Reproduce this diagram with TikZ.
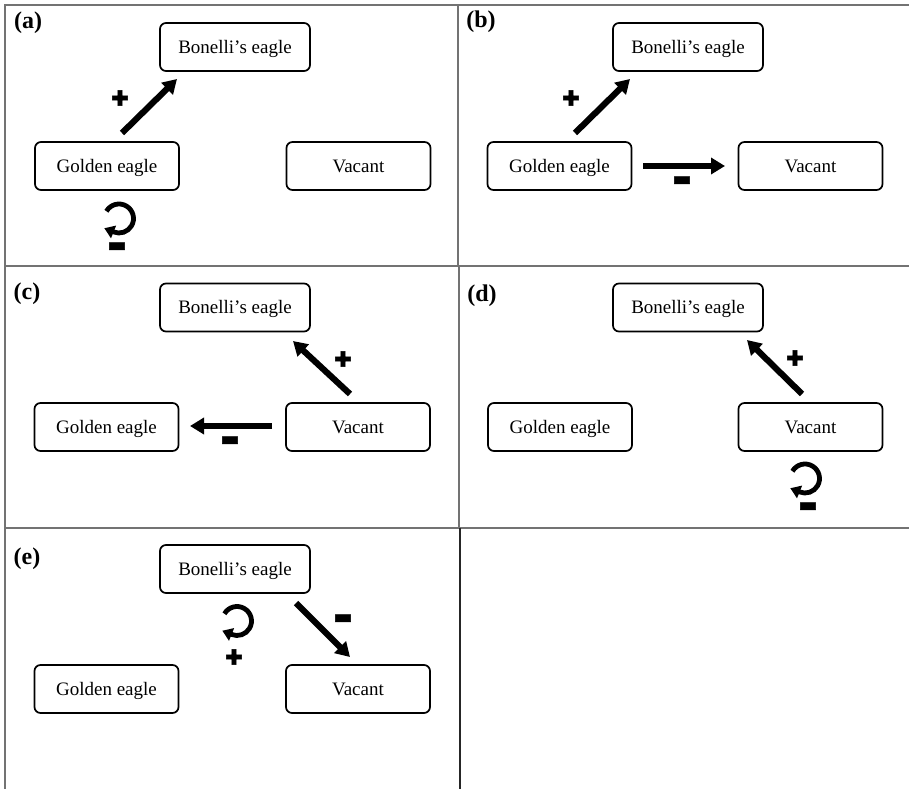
\documentclass[tikz,border=0pt]{standalone}
\usepackage{fontspec}
\setmainfont{Liberation Serif}
\newfontfamily\symfont[AutoFakeBold=2.6]{DejaVu Sans}
\usetikzlibrary{arrows.meta,calc}
\begin{document}
\begin{tikzpicture}[x=1pt,y=1pt,
  grid/.style={draw=black!55, line width=1.3pt},
  box/.style={draw, line width=1.7pt, rounded corners=6pt, minimum width=144pt, minimum height=48pt, inner sep=0pt, text height=12.6pt, text depth=0pt, font=\fontsize{19}{22}\selectfont},
  bbox/.style={box, minimum width=150pt},
  panel/.style={font=\bfseries\fontsize{24}{26}\selectfont, inner sep=0pt},
  plussign/.style={font=\symfont\bfseries\fontsize{21}{21}\selectfont, inner sep=0pt},
  minussign/.style={font=\symfont\bfseries\fontsize{20}{20}\selectfont, inner sep=0pt},
  flow/.style={line width=6.2pt, -{Triangle[length=14pt,width=16pt]}},
  loopst/.style={line width=4.8pt, -{Triangle[length=10pt,width=13pt]}}
]
\useasboundingbox (0,0) rectangle (909,-789);
% table grid
\draw[grid] (909,-5) -- (5,-5) -- (5,-789);
\draw[grid] (5,-266) -- (909,-266);
\draw[grid] (5,-528) -- (909,-528);
\draw[grid] (458,-5) -- (458,-266);
\draw[grid] (459,-266) -- (459,-528);
\draw[grid, draw=black!85] (460,-528) -- (460,-789);

% ---------- (a)
\node[panel] (la) at (28,-23) {(a)};
\node[bbox] (a-b) at (235,-47) {Bonelli’s eagle};
\node[box] (a-g) at (107,-166) {Golden eagle};
\node[box] (a-v) at (358.5,-166) {Vacant};
\coordinate (a-s1) at (122,-133);
\coordinate (a-e1) at (177,-79);
\draw[flow] (a-s1) -- (a-e1);
\node[plussign] (a-p1) at (120,-98) {✚};
\coordinate (a-c) at (119,-218.5);
\draw[loopst] ($(a-c)+(150:14.5)$) arc[start angle=150, end angle=-112, radius=14.5] -- ++(-9.27,3.75);
\node[minussign] (a-m1) at (117,-247) {▬};

% ---------- (b)
\node[panel] (lb) at (481,-22) {(b)};
\node[bbox] (b-b) at (688,-47) {Bonelli’s eagle};
\node[box] (b-g) at (559.5,-166) {Golden eagle};
\node[box] (b-v) at (810.5,-166) {Vacant};
\coordinate (b-s1) at (575,-133);
\coordinate (b-e1) at (630,-79);
\draw[flow] (b-s1) -- (b-e1);
\node[plussign] (b-p1) at (571,-98) {✚};
\coordinate (b-s2) at (643,-166);
\coordinate (b-e2) at (725,-166);
\draw[flow] (b-s2) -- (b-e2);
\node[minussign] (b-m1) at (682,-181) {▬};

% ---------- (c)
\node[panel] (lc) at (27,-294) {(c)};
\node[bbox] (c-b) at (235,-307.5) {Bonelli’s eagle};
\node[box] (c-g) at (106.5,-427) {Golden eagle};
\node[box] (c-v) at (358,-427) {Vacant};
\coordinate (c-s1) at (350,-394);
\coordinate (c-e1) at (293,-341);
\draw[flow] (c-s1) -- (c-e1);
\node[plussign] (c-p1) at (343,-359) {✚};
\coordinate (c-s2) at (272,-426);
\coordinate (c-e2) at (190,-426);
\draw[flow] (c-s2) -- (c-e2);
\node[minussign] (c-m1) at (230,-441) {▬};

% ---------- (d)
\node[panel] (ld) at (482,-296) {(d)};
\node[bbox] (d-b) at (688,-307.5) {Bonelli’s eagle};
\node[box] (d-g) at (560,-427) {Golden eagle};
\node[box] (d-v) at (810.5,-427) {Vacant};
\coordinate (d-s1) at (802,-394);
\coordinate (d-e1) at (747,-340);
\draw[flow] (d-s1) -- (d-e1);
\node[plussign] (d-p1) at (795,-358) {✚};
\coordinate (d-c) at (805,-478.5);
\draw[loopst] ($(d-c)+(150:14.5)$) arc[start angle=150, end angle=-112, radius=14.5] -- ++(-9.27,3.75);
\node[minussign] (d-m1) at (808,-507) {▬};

% ---------- (e)
\node[panel] (le) at (27,-559) {(e)};
\node[bbox] (e-b) at (235,-569) {Bonelli’s eagle};
\node[box] (e-g) at (106.5,-689) {Golden eagle};
\node[box] (e-v) at (358,-689) {Vacant};
\coordinate (e-c) at (237,-621);
\draw[loopst] ($(e-c)+(150:14.5)$) arc[start angle=150, end angle=-112, radius=14.5] -- ++(-9.27,3.75);
\node[plussign] (e-p1) at (234,-657) {✚};
\coordinate (e-s1) at (296,-603);
\coordinate (e-e1) at (350,-657);
\draw[flow] (e-s1) -- (e-e1);
\node[minussign] (e-m1) at (343,-619) {▬};
\end{tikzpicture}
\end{document}
